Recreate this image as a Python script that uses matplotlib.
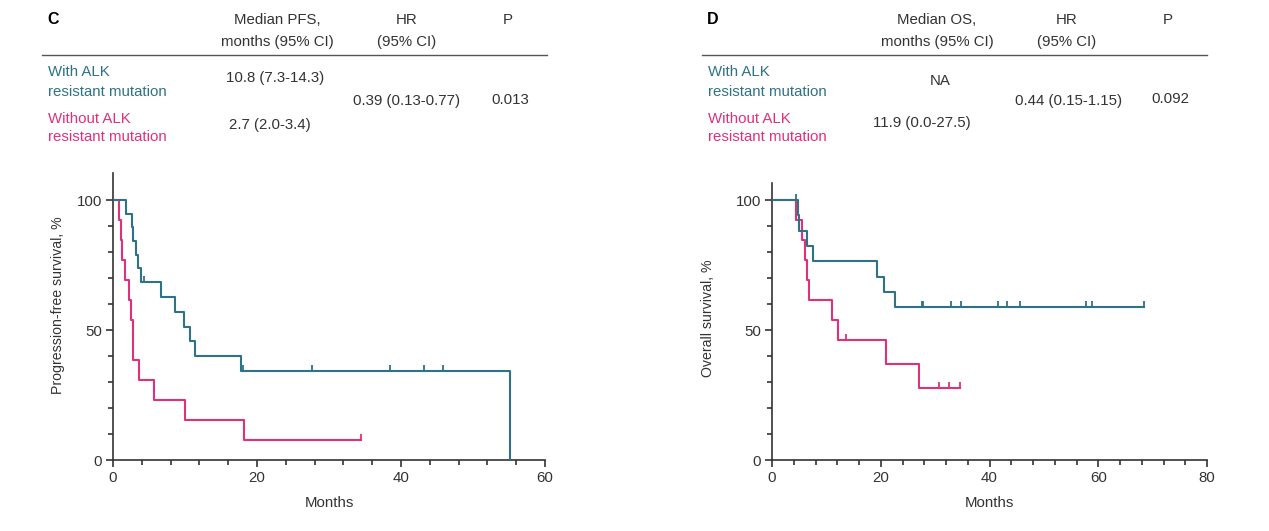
import matplotlib
matplotlib.use("Agg")
import matplotlib.pyplot as plt
import numpy as np

plt.rcParams["font.family"] = ["Liberation Sans", "DejaVu Sans"]

TEAL = "#2e7287"; PINK = "#e0307c"; INK = "#333333"

# ---- Kaplan-Meier curves -------------------------------------------------
# panel C: progression-free survival
pfs_with_t = [0, 1.8, 2.6, 2.8, 3.15, 3.45, 3.85, 6.6, 8.6, 9.9, 10.7, 11.4, 17.8, 55.1]
pfs_with_s = [100, 94.7, 89.5, 84.2, 78.9, 73.7, 68.4, 62.7, 57.0, 51.3, 45.6, 39.9, 34.2, 0]
pfs_with_cens = [4.3, 18.0, 27.7, 38.5, 43.2, 45.9]
pfs_with_end = 55.1

pfs_wo_t = [0, 0.9, 1.05, 1.25, 1.7, 2.25, 2.5, 2.75, 3.65, 5.7, 10.0, 18.2]
pfs_wo_s = [100, 92.3, 84.6, 76.9, 69.2, 61.5, 53.8, 38.5, 30.8, 23.1, 15.4, 7.7]
pfs_wo_cens = [34.4]
pfs_wo_end = 34.4

# panel D: overall survival
os_with_t = [0, 4.7, 5.0, 6.5, 7.6, 19.4, 20.6, 22.6]
os_with_s = [100, 94.1, 88.2, 82.4, 76.5, 70.6, 64.7, 58.8]
os_with_cens = [4.5, 27.5, 27.8, 32.9, 34.7, 41.5, 43.2, 45.7, 57.8, 58.8, 68.4]
os_with_end = 68.4

os_wo_t = [0, 4.5, 5.6, 6.0, 6.4, 6.8, 11.0, 12.1, 20.9, 27.1]
os_wo_s = [100, 92.3, 84.6, 76.9, 69.2, 61.5, 53.8, 46.2, 36.9, 27.7]
os_wo_cens = [13.6, 30.8, 32.5, 34.5]
os_wo_end = 34.5

W, H = 1269, 531
fig = plt.figure(figsize=(W / 100, H / 100), dpi=100)


def px(x, y):
    return x / W, 1 - y / H


def km(a, t, s, cens, end, color):
    tt = list(t) + [end]
    ss = list(s) + [s[-1]]
    a.step(tt, ss, where="post", color=color, lw=1.5, zorder=3)
    idx = np.searchsorted(t, cens, side="right") - 1
    a.plot(cens, np.array(s)[idx], ls="none", marker=2, ms=4, mew=1.3,
           color=color, zorder=3)


def style(a, xmax, ymax, ylabel, lab_x, lab_y):
    a.set_xlim(0, xmax); a.set_ylim(0, ymax)
    a.set_xticks(np.arange(0, xmax + 1, 20))
    a.set_xticks(np.arange(0, xmax + 1, 4), minor=True)
    a.set_yticks([0, 50, 100])
    a.set_yticks(np.arange(0, 101, 10), minor=True)
    for s in ("top", "right"):
        a.spines[s].set_visible(False)
    for s in ("left", "bottom"):
        a.spines[s].set_color(INK); a.spines[s].set_linewidth(1.2)
    a.tick_params(which="major", length=5, width=1.2, color=INK,
                  labelsize=10.8, labelcolor=INK, pad=3)
    a.tick_params(which="minor", length=3.5, width=1.2, color=INK)
    a.set_xlabel("Months", fontsize=10.8, color=INK, labelpad=8)
    a.set_ylabel(ylabel, fontsize=10.2, color=INK)
    a.yaxis.set_label_coords(lab_x, lab_y)


# panel C axes
axC = fig.add_axes([113 / W, 71 / H, 432 / W, 287 / H])
km(axC, pfs_wo_t, pfs_wo_s, pfs_wo_cens, pfs_wo_end, PINK)
km(axC, pfs_with_t, pfs_with_s, pfs_with_cens, pfs_with_end, TEAL)
style(axC, 60, 110.4, "Progression-free survival, %", -0.112, 0.54)

# panel D axes
axD = fig.add_axes([772 / W, 71 / H, 435 / W, 277 / H])
km(axD, os_wo_t, os_wo_s, os_wo_cens, os_wo_end, PINK)
km(axD, os_with_t, os_with_s, os_with_cens, os_with_end, TEAL)
style(axD, 80, 106.6, "Overall survival, %", -0.132, 0.513)


# ---- header tables -------------------------------------------------------
def header(dx, letter, med_title, med_with, med_wo, hr, p):
    fs = 10.8
    fig.text(*px(47 + dx, 20), letter, fontsize=11.5, fontweight="bold",
             color="black", ha="left", va="center")
    fig.text(*px(277 + dx, 20), med_title, fontsize=fs, color=INK, ha="center", va="center")
    fig.text(*px(277 + dx, 42), "months (95% CI)", fontsize=fs, color=INK, ha="center", va="center")
    fig.text(*px(407 + dx, 20), "HR", fontsize=fs, color=INK, ha="center", va="center")
    fig.text(*px(407 + dx, 42), "(95% CI)", fontsize=fs, color=INK, ha="center", va="center")
    fig.text(*px(508 + dx, 20), "P", fontsize=fs, color=INK, ha="center", va="center")
    x0, y0 = px(42 + dx, 55); x1, _ = px(547 + dx, 55)
    fig.add_artist(plt.Line2D([x0, x1], [y0, y0], color="#555555", lw=1.0))
    fig.text(*px(48 + dx, 72), "With ALK", fontsize=fs, color=TEAL, ha="left", va="center")
    fig.text(*px(48 + dx, 92), "resistant mutation", fontsize=fs, color=TEAL, ha="left", va="center")
    fig.text(*px(48 + dx, 119), "Without ALK", fontsize=fs, color=PINK, ha="left", va="center")
    fig.text(*px(48 + dx, 137), "resistant mutation", fontsize=fs, color=PINK, ha="left", va="center")
    fig.text(*px(med_with[0] + dx, med_with[1]), med_with[2], fontsize=fs, color=INK,
             ha="center", va="center")
    fig.text(*px(med_wo[0] + dx, med_wo[1]), med_wo[2], fontsize=fs, color=INK,
             ha="center", va="center")
    fig.text(*px(hr[0] + dx, hr[1]), hr[2], fontsize=fs, color=INK, ha="center", va="center")
    fig.text(*px(p[0] + dx, p[1]), p[2], fontsize=fs, color=INK, ha="center", va="center")


header(0, "C", "Median PFS,", (275, 78, "10.8 (7.3-14.3)"), (270, 125, "2.7 (2.0-3.4)"),
       (407, 101, "0.39 (0.13-0.77)"), (510, 100, "0.013"))
header(660, "D", "Median OS,", (280, 81, "NA"), (262, 123, "11.9 (0.0-27.5)"),
       (409, 101, "0.44 (0.15-1.15)"), (510, 99, "0.092"))

fig.savefig("out.png", dpi=100)
